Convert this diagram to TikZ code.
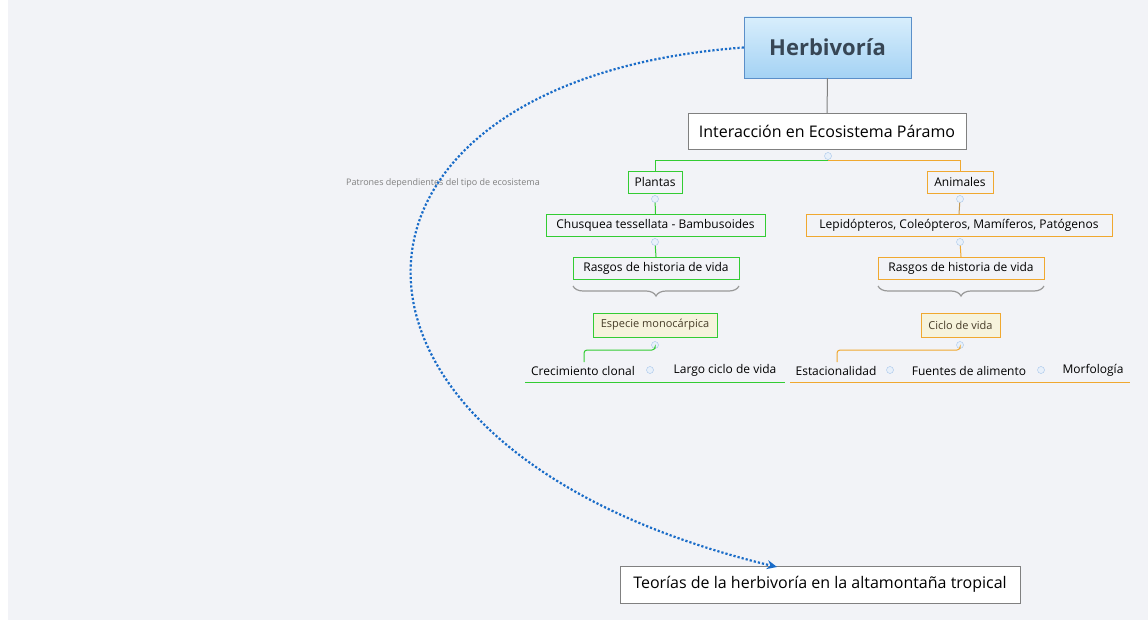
\documentclass[tikz,border=0pt]{standalone}
\usepackage{fontspec}
\setmainfont{Open Sans}
\usetikzlibrary{decorations.pathreplacing,arrows.meta}
\definecolor{bg}{HTML}{F2F3F7}
\definecolor{gr}{HTML}{33CC33}
\definecolor{orn}{HTML}{F0A830}
\definecolor{cream}{HTML}{F6F3DC}
\definecolor{bl}{HTML}{1A6CC8}
\begin{document}
\begin{tikzpicture}[x=1pt,y=-1pt,
  box/.style={draw, rectangle, inner sep=0pt, font=\fontsize{12}{14}\selectfont, text=black},
  gbox/.style={box, draw=gr, fill=bg},
  obox/.style={box, draw=orn, fill=bg},
  leaf/.style={font=\fontsize{12}{14}\selectfont, inner sep=0pt},
  knob/.style={circle, draw=bl!40, fill=bl!10, minimum size=7pt, inner sep=0pt},
  brace/.style={draw=gray!80, line width=1.2pt, decorate, decoration={brace, amplitude=10pt}}]
\fill[white] (0,0) rectangle (1148,620);
\fill[bg] (8,0) rectangle (1148,620);
\useasboundingbox (0,0) rectangle (1148,620);
% main
\node[draw={rgb,255:red,91;green,143;blue,201}, top color={rgb,255:red,216;green,238;blue,252}, bottom color={rgb,255:red,164;green,210;blue,244}, minimum width=167pt, minimum height=61pt, font=\fontsize{22}{26}\selectfont\bfseries, text={rgb,255:red,55;green,70;blue,85}] (H) at (827.5,47.5) {Herbivoría};
\node[draw=gray, fill=white, minimum width=278pt, minimum height=36pt, font=\fontsize{16}{19}\selectfont] (I) at (827,131) {Interacción en Ecosistema Páramo};
\draw[gray, line width=1pt] (H.south) -- (I.north);
\node[knob] (k0) at (828,156) {};
% level 1
\node[gbox, minimum width=54pt, minimum height=22pt] (P) at (655,182) {Plantas};
\node[obox, minimum width=66pt, minimum height=22pt] (A) at (960,182) {Animales};
\draw[gr, line width=1pt] (k0.south) -- (828,161) -- (655,161) -- (P.north);
\draw[orn, line width=1pt] (828,161) -- (960,161) -- (A.north);
\node[knob] (k1) at (655,199) {};
\node[knob] (k2) at (960,199) {};
\node[gbox, minimum width=219pt, minimum height=22pt] (C) at (655.5,225) {Chusquea tessellata - Bambusoides};
\node[obox, minimum width=306pt, minimum height=22pt] (L) at (959,225) {Lepidópteros, Coleópteros, Mamíferos, Patógenos};
\draw[gr, line width=1pt] (k1) -- (C.north);
\draw[orn!60!gray, line width=1pt] (k2) -- (L.north);
\node[knob] (k3) at (655,242) {};
\node[knob] (k4) at (960,242) {};
\node[gbox, minimum width=166pt, minimum height=22pt] (R1) at (656,268) {Rasgos de historia de vida};
\node[obox, minimum width=166pt, minimum height=22pt] (R2) at (961,268) {Rasgos de historia de vida};
\draw[gr, line width=1pt] (k3) -- (R1.north);
\draw[orn, line width=1pt] (k4) -- (R2.north);
% braces
\draw[brace] (739,286) -- (573,286);
\draw[brace] (1044,286) -- (878,286);
\node[box, draw=gr, fill=cream, minimum width=124pt, minimum height=24pt, font=\fontsize{11}{13}\selectfont, text={rgb,255:red,70;green,60;blue,40}] (E) at (655,325) {Especie monocárpica};
\node[box, draw=orn, fill=cream, minimum width=79pt, minimum height=24pt, font=\fontsize{11}{13}\selectfont, text={rgb,255:red,70;green,60;blue,40}] (V) at (960.5,325) {Ciclo de vida};
\node[knob] (k5) at (655,345) {};
\node[knob] (k6) at (960,345) {};
% leaves
\node[leaf] (l1) at (583,371) {Crecimiento clonal};
\node[leaf] (l2) at (725,370) {Largo ciclo de vida};
\node[leaf] (l3) at (836,371) {Estacionalidad};
\node[leaf] (l4) at (969,371) {Fuentes de alimento};
\node[leaf] (l5) at (1093,370) {Morfología};
\node[knob] at (650,370) {};
\node[knob] at (890,370) {};
\node[knob] at (1041,370) {};
\draw[gr, line width=1pt] (525,382) -- (785,382);
\draw[orn, line width=1pt] (790,382) -- (1130,382);
\draw[gr, line width=1pt, rounded corners=3pt] (k5.south) -- (655,350) -- (584,350) -- (584,362);
\draw[orn, line width=1pt, rounded corners=3pt] (k6.south) -- (960,350) -- (837,350) -- (837,362);
% relation
\node[font=\fontsize{9}{11}\selectfont, text=gray] (pt) at (443,183) {Patrones dependientes del tipo de ecosistema};
\node[draw=gray, fill=white, minimum width=400pt, minimum height=37pt, font=\fontsize{16}{19}\selectfont] (T) at (820,584.5) {Teorías de la herbivoría en la altamontaña tropical};
\draw[bl, line width=2.2pt, dotted, -{Stealth[length=10pt,width=9pt]}] (H.west) .. controls (300,80) and (290,450) .. (777,567);
\end{tikzpicture}
\end{document}
